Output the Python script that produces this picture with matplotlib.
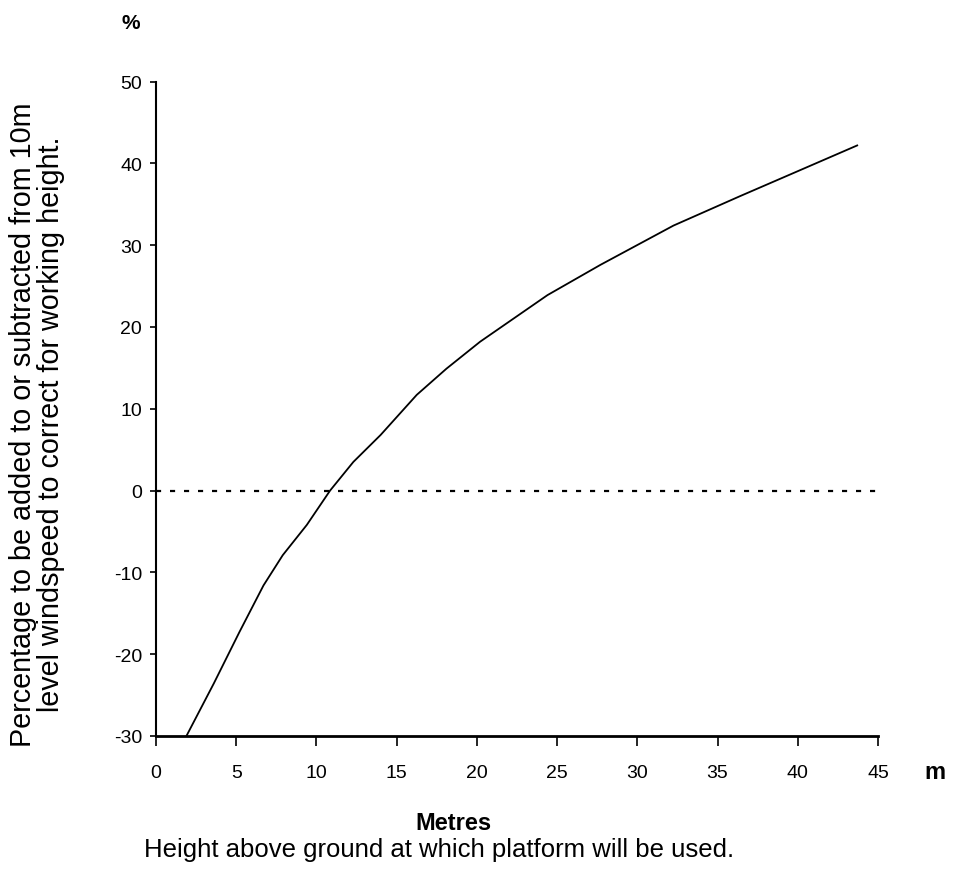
import matplotlib
matplotlib.use("Agg")
import matplotlib.pyplot as plt

# values
height_m = [1.9, 3.6, 5.2, 6.7, 7.9, 9.4, 10.85, 12.3, 14.0, 16.25, 18.1, 20.2,
            24.4, 27.7, 32.25, 36.4, 39.7, 43.7]
correction_pct = [-30, -23.6, -17.3, -11.6, -7.9, -4.2, 0, 3.5, 6.8, 11.7, 14.9, 18.2,
                  23.9, 27.6, 32.4, 36.0, 38.8, 42.2]

x_ticks = [0, 5, 10, 15, 20, 25, 30, 35, 40, 45]
y_ticks = [-30, -20, -10, 0, 10, 20, 30, 40, 50]

plt.rcParams['font.family'] = ['Liberation Sans', 'DejaVu Sans']
plt.rcParams['axes.unicode_minus'] = False

fig = plt.figure(figsize=(9.57, 8.70), dpi=100)
ax = fig.add_axes([0.163, 0.153, 0.7545, 0.752])

ax.plot(height_m, correction_pct, color='black', linewidth=1.3)
ax.plot([0, 45], [0, 0], color='black', linewidth=1.6, linestyle=(0, (2.3, 4)))

ax.set_xlim(0, 45)
ax.set_ylim(-30, 50)
ax.set_xticks(x_ticks)
ax.set_yticks(y_ticks)

ax.spines['top'].set_visible(False)
ax.spines['right'].set_visible(False)
ax.spines['left'].set_linewidth(1.5)
ax.spines['bottom'].set_linewidth(2.0)
ax.tick_params(axis='x', direction='out', length=7, width=1.2, labelsize=14, pad=13)
ax.tick_params(axis='y', direction='out', length=4, width=1.2, labelsize=14, pad=6)

ax.text(-0.035, 1.09, '%', transform=ax.transAxes, fontsize=15,
        fontweight='bold', ha='center', va='center')
ax.text(1.079, -0.054, 'm', transform=ax.transAxes, fontsize=17,
        fontweight='bold', ha='center', va='center')

fig.text(0.039, 0.512,
         'Percentage to be added to or subtracted from 10m\n'
         'level windspeed to correct for working height.',
         rotation=90, ha='center', va='center', fontsize=20.7, linespacing=1.0)

fig.text(0.474, 0.054, 'Metres', ha='center', va='center', fontsize=17,
         fontweight='bold')
fig.text(0.459, 0.023, 'Height above ground at which platform will be used.',
         ha='center', va='center', fontsize=18.5)

fig.savefig('out.png', dpi=100)
